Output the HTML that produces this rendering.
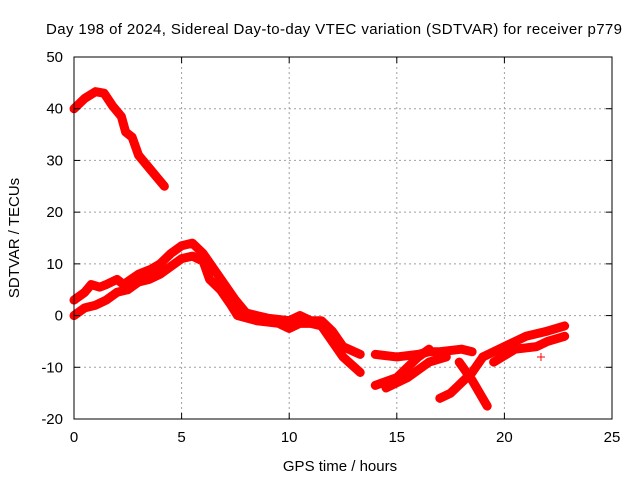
<!DOCTYPE html>
<html><head><meta charset="utf-8"><style>
body{margin:0;background:#fff}
svg text{font-family:"Liberation Sans",sans-serif;font-size:15px;fill:#000}
</style></head><body>
<svg id="chart" width="640" height="480">
<text x="334" y="34" text-anchor="middle" textLength="576">Day 198 of 2024, Sidereal Day-to-day VTEC variation (SDTVAR) for receiver p779</text>
<text x="340" y="471" text-anchor="middle">GPS time / hours</text>
<text transform="translate(19,238) rotate(-90)" text-anchor="middle">SDTVAR / TECUs</text>
<g id="grid"></g><g id="marks"></g><g id="axes"></g>
</svg>
<script>
const xTicks=[0,5,10,15,20,25];
const yTicks=[-20,-10,0,10,20,30,40,50];
const trackTop=[[0,40],[0.5,42],[1,43.3],[1.4,43],[1.8,40.5],[2.2,38.5],[2.4,35.5],[2.7,34.5],[3,31],[3.5,28.5],[4,26],[4.2,25]];
const trackUpper=[[0,3],[0.5,4.5],[0.8,6],[1.2,5.5],[1.5,6],[2,7],[2.3,6],[3,8],[3.6,9],[4,10],[4.5,12],[5,13.5],[5.5,14],[6,12],[6.5,9],[7,6],[7.5,3],[8,0.5],[8.5,0],[9,-0.5],[10,-1],[10.5,0],[11,-1],[11.5,-1],[12,-3],[12.5,-6],[13.3,-7.5]];
const trackLower=[[0,0],[0.5,1.5],[1,2],[1.5,3],[2,4.5],[2.5,5],[3,6.5],[3.5,7],[4,8],[4.5,9.5],[5,11],[5.5,11.5],[6,10.5],[6.3,7],[6.8,5],[7.3,2],[7.6,0],[8.5,-1],[9.5,-1.5],[10,-2.5],[10.5,-1.5],[11,-1.5],[11.5,-2],[12,-5],[12.5,-8],[13.3,-11]];
const trackA=[[14,-7.5],[15,-8],[16,-7.5],[16.5,-7],[17,-7],[18,-6.5],[18.5,-7]];
const trackB=[[14,-13.5],[15,-12],[15.5,-10],[16,-8],[16.5,-6.5]];
const trackC=[[14.5,-14],[15.5,-12],[16.5,-9],[17.3,-8]];
const trackD=[[17,-16],[17.5,-15],[18,-13],[18.5,-11],[19,-8]];
const trackE=[[17.9,-9],[18.5,-12.5],[19.2,-17.5]];
const trackF=[[19,-8],[20,-6],[21,-4],[22,-3],[22.8,-2]];
const trackG=[[19.5,-9],[20.5,-6.5],[21.5,-6],[22,-5],[22.8,-4]];
const single=[[21.7,-8]];
const X=v=>74+v*538/25, Y=v=>419-(v+20)*362/70;
const NS="http://www.w3.org/2000/svg";
function mk(t,a,p){const e=document.createElementNS(NS,t);for(const k in a)e.setAttribute(k,a[k]);document.getElementById(p).appendChild(e);return e;}
xTicks.forEach(t=>{
  if(t>0&&t<25){const g=mk('line',{x1:X(t),x2:X(t),y1:57,y2:419,stroke:'#a0a0a0','stroke-dasharray':'2,3'},'grid');
  
  }
  mk('line',{x1:X(t),x2:X(t),y1:419,y2:413,stroke:'#000'},'axes');
  mk('line',{x1:X(t),x2:X(t),y1:57,y2:63,stroke:'#000'},'axes');
  const l=mk('text',{x:X(t),y:442,'text-anchor':'middle'},'axes');l.textContent=t;
  
  
});
yTicks.forEach(t=>{
  if(t>-20&&t<50){const g=mk('line',{x1:74,x2:612,y1:Y(t),y2:Y(t),stroke:'#a0a0a0','stroke-dasharray':'2,3'},'grid');
  
  }
  mk('line',{x1:74,x2:80,y1:Y(t),y2:Y(t),stroke:'#000'},'axes');
  mk('line',{x1:606,x2:612,y1:Y(t),y2:Y(t),stroke:'#000'},'axes');
  const l=mk('text',{x:63,y:Y(t)+5,'text-anchor':'end'},'axes');l.textContent=t;
  
  
});
const fr=mk('rect',{x:74,y:57,width:538,height:362,fill:'none',stroke:'#000'},'axes');


[trackTop,trackUpper,trackLower,trackA,trackB,trackC,trackD,trackE,trackF,trackG].forEach(tr=>{
  const p=mk('polyline',{points:tr.map(d=>X(d[0])+','+Y(d[1])).join(' '),fill:'none',stroke:'#ff0000','stroke-width':9,'stroke-linejoin':'round','stroke-linecap':'round'},'marks');
  
  
});
single.forEach(d=>{
  const p=mk('path',{d:`M${X(d[0])-4},${Y(d[1])}h8M${X(d[0])},${Y(d[1])-4}v8`,stroke:'#ff0000','stroke-width':1},'marks');
  
  
});
</script>
</body></html>
